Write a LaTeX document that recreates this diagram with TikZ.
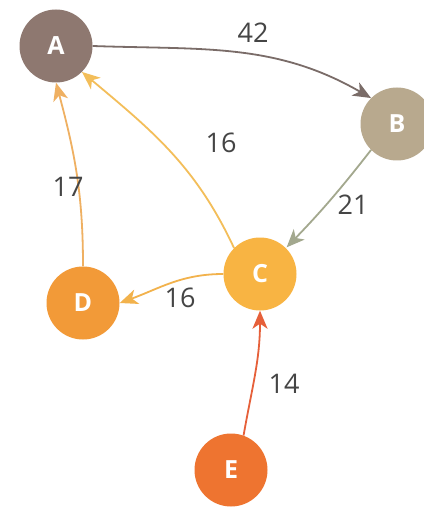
\documentclass[tikz,border=0pt]{standalone}
\usepackage{fontspec}
\setmainfont{Open Sans}
\usetikzlibrary{arrows.meta}

\definecolor{colA}{HTML}{8E7870}
\definecolor{colB}{HTML}{B8A98E}
\definecolor{colC}{HTML}{F8B443}
\definecolor{colD}{HTML}{F29A38}
\definecolor{colE}{HTML}{EE7430}
\definecolor{edgeAB}{HTML}{7A6C68}
\definecolor{edgeBC}{HTML}{A3A88E}
\definecolor{edgeCA}{HTML}{F3BE5A}
\definecolor{edgeDA}{HTML}{EFB062}
\definecolor{edgeCD}{HTML}{F2B24C}
\definecolor{edgeEC}{HTML}{E6603A}
\definecolor{labelgray}{HTML}{454545}

\begin{document}
\begin{tikzpicture}[x=1pt, y=-1pt,
  every node/.style={circle, minimum size=73pt, inner sep=0pt, text=white, font=\fontsize{25}{25}\selectfont\bfseries},
  wlabel/.style={rectangle, minimum size=0pt, fill=none, text=labelgray, font=\fontsize{27}{27}\selectfont},
  link/.style={line width=1.8pt, -{Stealth[length=18pt, width=15pt, inset=5pt]}}]

\useasboundingbox[fill=white] (0,0) rectangle (423,510);

% Nodes

\node[fill=colA] (A) at (56,46) {A};
\node[fill=colB] (B) at (397,124) {B};
\node[fill=colC] (C) at (260,274) {C};
\node[fill=colD] (D) at (83,303) {D};
\node[fill=colE] (E) at (231,470) {E};

% Edges
\draw[link, edgeAB] (A.east) to[out=-2, in=150] (B.north west);
\draw[link, edgeBC, shorten >=1pt] (B.south west) to[bend left=3] (C.north east);
\draw[link, edgeCA] (C.north west) to[out=115, in=-40] (A.south east);
\draw[link, edgeDA] (D.north) to[out=90, in=-75] (A.south);
\draw[link, edgeCD] (C.west) to[out=180, in=20] (D.east);
\draw[link, edgeEC] (E.70) to[out=80, in=-90] (C.south);

% Labels
\node[wlabel] (w42) at (253,33) {42};
\node[wlabel] (w21) at (353,205) {21};
\node[wlabel] (w16a) at (221,143) {16};
\node[wlabel] (w17) at (68,187) {17};
\node[wlabel] (w16b) at (180,298) {16};
\node[wlabel] (w14) at (284,384) {14};

\end{tikzpicture}
\end{document}
